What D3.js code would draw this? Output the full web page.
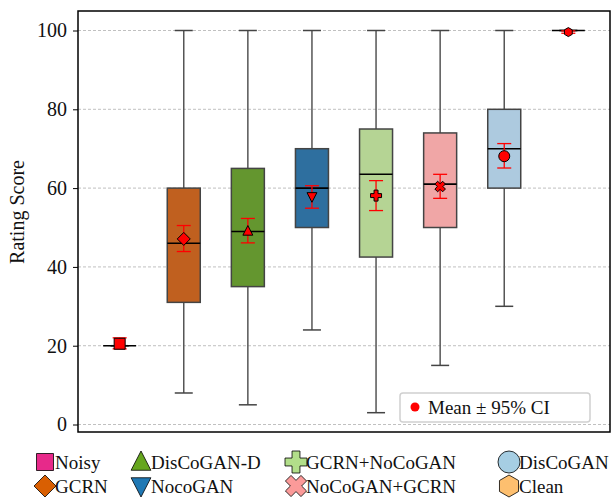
<!DOCTYPE html>
<html>
<head>
<meta charset="utf-8">
<script src="https://cdn.jsdelivr.net/npm/d3@7"></script>
<style>
  body { margin: 0; background: #fff; }
  svg text { font-family: "Liberation Serif", "Times New Roman", serif; }
</style>
</head>
<body>
<div id="chart"></div>
<script>
// ---- data ----
var categories = ["Noisy", "GCRN", "DisCoGAN-D", "NocoGAN", "GCRN+NoCoGAN", "NoCoGAN+GCRN", "DisCoGAN", "Clean"];
var whiskerLow  = [20, 8, 5, 24, 3, 15, 30, 100];
var q1          = [20, 31, 35, 50, 42.5, 50, 60, 100];
var medians     = [20, 46, 49, 60, 63.5, 61, 70, 100];
var q3          = [20, 60, 65, 70, 75, 74, 80, 100];
var whiskerHigh = [20, 100, 100, 100, 100, 100, 100, 100];
var means       = [20.5, 47.1, 49.1, 57.8, 58.1, 60.4, 68.1, 99.6];
var ciLow       = [19.2, 43.9, 46.1, 54.9, 54.3, 57.4, 65.1, 99.3];
var ciHigh      = [22.0, 50.5, 52.3, 60.6, 61.9, 63.5, 71.3, 99.9];
var yTicks      = [0, 20, 40, 60, 80, 100];

var boxColors    = ["#e7298a", "#c0601f", "#64962f", "#2e6f9f", "#b5d494", "#f0a6a6", "#adcadf", "#fdbf6f"];
var legendColors = ["#e7298a", "#d95f02", "#66a61e", "#1f78b4", "#b2df8a", "#fb9a99", "#a6cee3", "#fdbf6f"];
var markers      = ["square", "diamond", "triangleUp", "triangleDown", "plus", "cross", "circle", "hexagon"];

var width = 615, height = 500;
var plot = {left: 78, right: 610, top: 11, bottom: 432};

var svg = d3.select("#chart").append("svg")
    .attr("width", width)
    .attr("height", height);

var x = d3.scaleLinear().domain([0.35, 8.65]).range([plot.left, plot.right]);
var y = d3.scaleLinear().domain([-1.9, 104.95]).range([plot.bottom, plot.top]);

// marker outlines, r = half size
function shapePath(type, r) {
    var p;
    if (type === "square") {
        return "M" + (-r) + "," + (-r) + "H" + r + "V" + r + "H" + (-r) + "Z";
    }
    if (type === "diamond") {
        return "M0," + (-r) + "L" + r + ",0L0," + r + "L" + (-r) + ",0Z";
    }
    if (type === "triangleUp") {
        return "M0," + (-r) + "L" + (r * 0.9) + "," + (r * 0.75) + "L" + (-r * 0.9) + "," + (r * 0.75) + "Z";
    }
    if (type === "triangleDown") {
        return "M0," + r + "L" + (r * 0.9) + "," + (-r * 0.75) + "L" + (-r * 0.9) + "," + (-r * 0.75) + "Z";
    }
    if (type === "plus" || type === "cross") {
        var a = r * 0.36;
        p = [[-a, -r], [a, -r], [a, -a], [r, -a], [r, a], [a, a], [a, r], [-a, r], [-a, a], [-r, a], [-r, -a], [-a, -a]];
        if (type === "cross") {
            var c = Math.SQRT1_2;
            p = p.map(function(q) { return [(q[0] - q[1]) * c, (q[0] + q[1]) * c]; });
        }
        return "M" + p.join("L") + "Z";
    }
    if (type === "hexagon") {
        p = d3.range(6).map(function(k) {
            var ang = Math.PI / 2 + k * Math.PI / 3;
            return [r * Math.cos(ang), -r * Math.sin(ang)];
        });
        return "M" + p.join("L") + "Z";
    }
    // circle
    return "M" + (-r) + ",0A" + r + "," + r + " 0 1,0 " + r + ",0A" + r + "," + r + " 0 1,0 " + (-r) + ",0Z";
}

// gridlines
svg.append("g").selectAll("line")
    .data(yTicks)
    .enter().append("line")
    .attr("x1", plot.left).attr("x2", plot.right)
    .attr("y1", function(d) { return y(d); })
    .attr("y2", function(d) { return y(d); })
    .attr("stroke", "#b0b0b0")
    .attr("stroke-width", 0.8)
    .attr("stroke-dasharray", "3,2");

// boxes
var idx = d3.range(categories.length);
var halfBox = 16.5, halfCap = 9, halfCi = 7;

var boxes = svg.append("g").selectAll("g")
    .data(idx)
    .enter().append("g");

boxes.append("line")
    .attr("x1", function(i) { return x(i + 1); })
    .attr("x2", function(i) { return x(i + 1); })
    .attr("y1", function(i) { return y(whiskerLow[i]); })
    .attr("y2", function(i) { return y(q1[i]); })
    .attr("stroke", "#555").attr("stroke-width", 1.5);
boxes.append("line")
    .attr("x1", function(i) { return x(i + 1); })
    .attr("x2", function(i) { return x(i + 1); })
    .attr("y1", function(i) { return y(q3[i]); })
    .attr("y2", function(i) { return y(whiskerHigh[i]); })
    .attr("stroke", "#555").attr("stroke-width", 1.5);
[whiskerLow, whiskerHigh].forEach(function(arr) {
    boxes.append("line")
        .attr("x1", function(i) { return x(i + 1) - halfCap; })
        .attr("x2", function(i) { return x(i + 1) + halfCap; })
        .attr("y1", function(i) { return y(arr[i]); })
        .attr("y2", function(i) { return y(arr[i]); })
        .attr("stroke", "#444").attr("stroke-width", 1.5);
});
boxes.append("rect")
    .attr("x", function(i) { return x(i + 1) - halfBox; })
    .attr("width", halfBox * 2)
    .attr("y", function(i) { return y(q3[i]); })
    .attr("height", function(i) { return y(q1[i]) - y(q3[i]); })
    .attr("fill", function(i) { return boxColors[i]; })
    .attr("stroke", "#444").attr("stroke-width", 1.5);
boxes.append("line")
    .attr("x1", function(i) { return x(i + 1) - halfBox; })
    .attr("x2", function(i) { return x(i + 1) + halfBox; })
    .attr("y1", function(i) { return y(medians[i]); })
    .attr("y2", function(i) { return y(medians[i]); })
    .attr("stroke", "#000").attr("stroke-width", 1.6);

// mean +/- CI
var ci = boxes.append("g").attr("stroke", "#ff0000").attr("stroke-width", 1.3);
ci.append("line")
    .attr("x1", function(i) { return x(i + 1); })
    .attr("x2", function(i) { return x(i + 1); })
    .attr("y1", function(i) { return y(ciLow[i]); })
    .attr("y2", function(i) { return y(ciHigh[i]); });
[ciLow, ciHigh].forEach(function(arr) {
    ci.append("line")
        .attr("x1", function(i) { return x(i + 1) - halfCi; })
        .attr("x2", function(i) { return x(i + 1) + halfCi; })
        .attr("y1", function(i) { return y(arr[i]); })
        .attr("y2", function(i) { return y(arr[i]); });
});
boxes.append("path")
    .attr("transform", function(i) { return "translate(" + x(i + 1) + "," + y(means[i]) + ")"; })
    .attr("d", function(i) { return shapePath(markers[i], i === 7 ? 4.5 : (i === 1 ? 6.5 : 5.5)); })
    .attr("fill", "#ff0000")
    .attr("stroke", "#000").attr("stroke-width", 1);

// frame
svg.append("rect")
    .attr("x", plot.left).attr("y", plot.top)
    .attr("width", plot.right - plot.left).attr("height", plot.bottom - plot.top)
    .attr("fill", "none").attr("stroke", "#000").attr("stroke-width", 1.5);

// y axis
var yAxis = svg.append("g")
    .attr("transform", "translate(" + plot.left + ",0)")
    .call(d3.axisLeft(y).tickValues(yTicks).tickSize(5).tickPadding(6));
yAxis.select(".domain").remove();
yAxis.selectAll("line").attr("stroke", "#000").attr("stroke-width", 1);
yAxis.selectAll("text")
    .attr("font-size", 20)
    .attr("fill", "#111")
    .style("font-family", "'Liberation Serif', serif");

svg.append("text")
    .attr("transform", "translate(24,212) rotate(-90)")
    .attr("text-anchor", "middle")
    .attr("font-size", 20)
    .attr("fill", "#111")
    .text("Rating Score");

// mean legend
var ml = svg.append("g").attr("transform", "translate(400,393)");
ml.append("rect")
    .attr("width", 190).attr("height", 29)
    .attr("rx", 3)
    .attr("fill", "#fff")
    .attr("stroke", "#d0d0d0").attr("stroke-width", 1.5);
ml.append("circle").attr("cx", 15).attr("cy", 14).attr("r", 4.5).attr("fill", "#ff0000");
ml.append("text").attr("x", 28).attr("y", 20.5).attr("font-size", 19).attr("fill", "#111").text("Mean \u00b1 95% CI");

// category legend (column-major, 2 rows)
var colX = [45, 141, 296, 509];
var rowY = [462, 486];
var leg = svg.append("g").selectAll("g")
    .data(idx)
    .enter().append("g")
    .attr("transform", function(i) {
        return "translate(" + colX[Math.floor(i / 2)] + "," + rowY[i % 2] + ")";
    });
leg.append("path")
    .attr("d", function(i) { return shapePath(markers[i], markers[i] === "square" ? 8.5 : 11); })
    .attr("fill", function(i) { return legendColors[i]; })
    .attr("stroke", "#000").attr("stroke-width", 0.8);
leg.append("text")
    .attr("x", 10)
    .attr("y", 7)
    .attr("font-size", 19)
    .attr("fill", "#111")
    .text(function(i) { return categories[i]; });
</script>
</body>
</html>
